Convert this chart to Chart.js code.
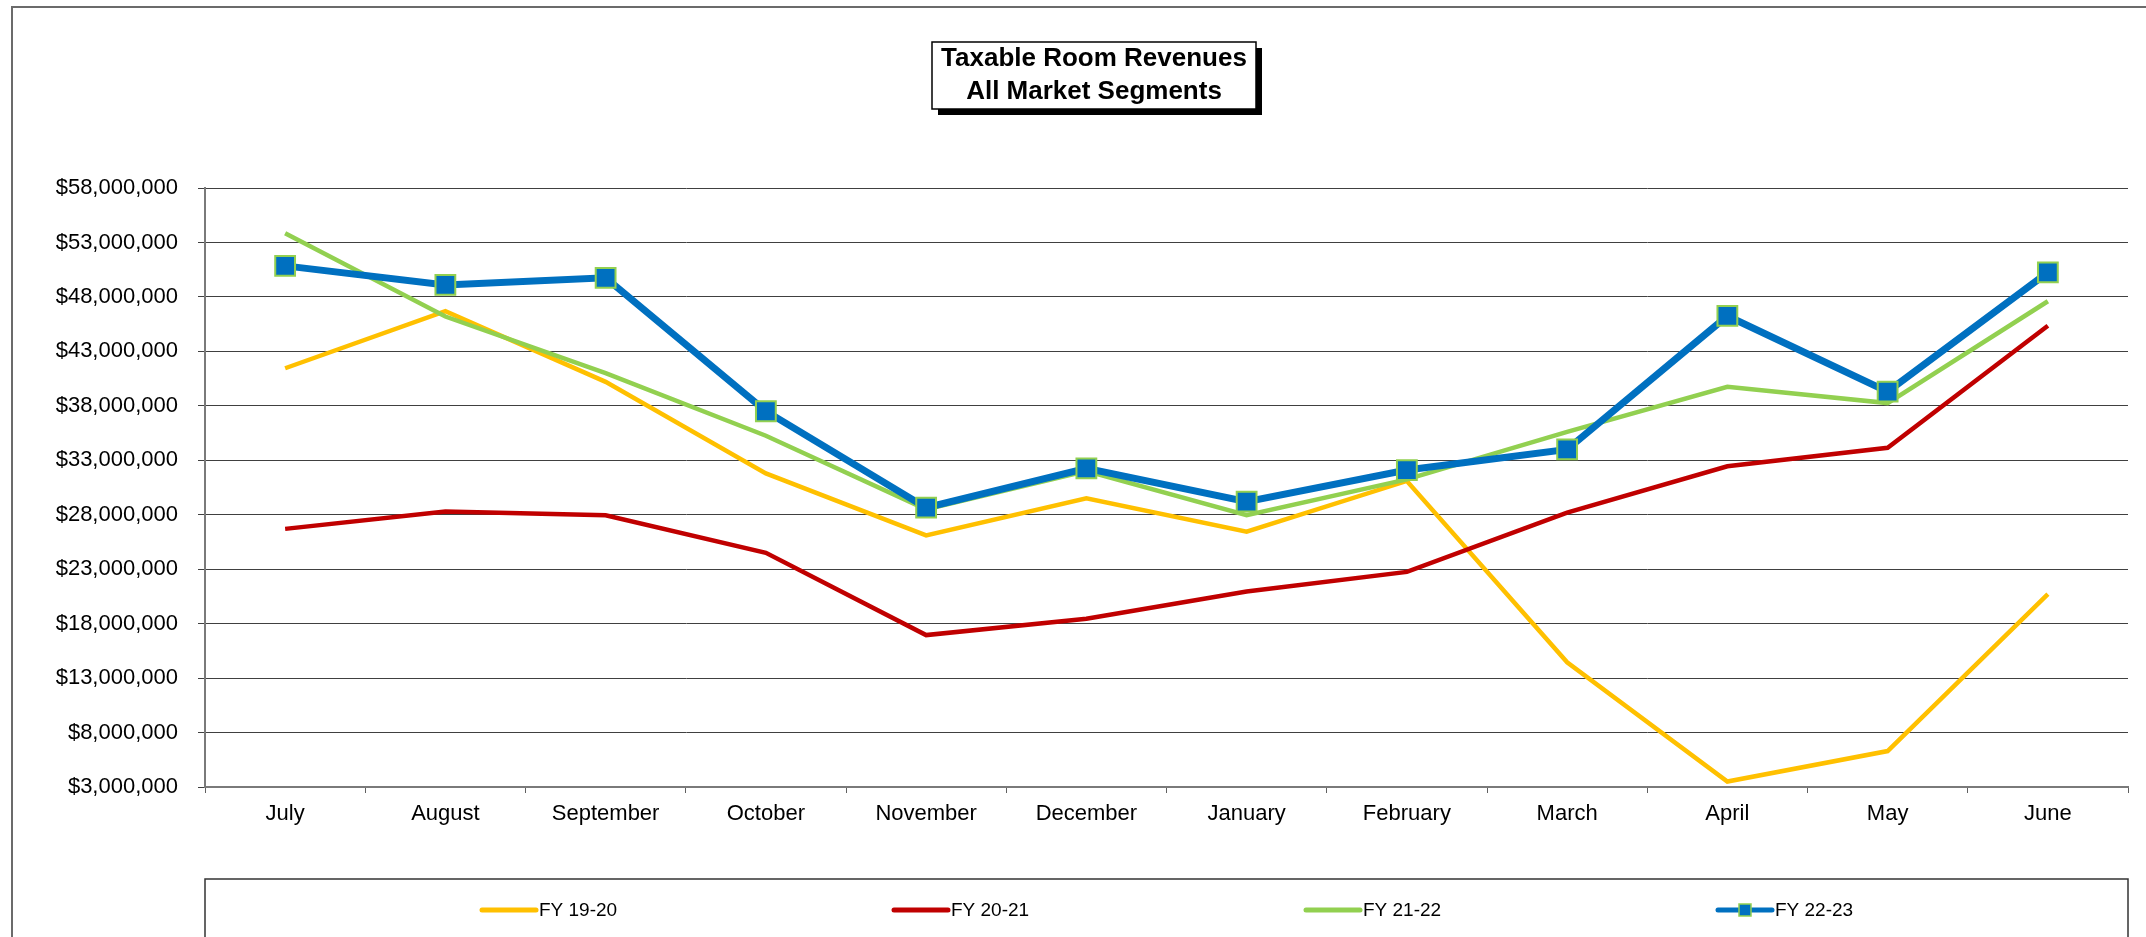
<!DOCTYPE html>
<html>
<head>
<meta charset="utf-8">
<script src="https://cdn.jsdelivr.net/npm/chart.js@4.4.0/dist/chart.umd.min.js"></script>
<style>
html, body { margin: 0; padding: 0; background: #fff; }
</style>
</head>
<body>
<canvas id="grafico" width="2146" height="937"></canvas>
<script>
const months = ['July', 'August', 'September', 'October', 'November', 'December', 'January', 'February', 'March', 'April', 'May', 'June'];

const fy1920 = [41450000, 46700000, 40200000, 31800000, 26100000, 29500000, 26450000, 31100000, 14450000, 3500000, 6300000, 20700000];
const fy2021 = [26700000, 28300000, 27950000, 24500000, 16950000, 18450000, 20950000, 22750000, 28200000, 32450000, 34150000, 45350000];
const fy2122 = [53850000, 46200000, 41000000, 35250000, 28500000, 32000000, 27950000, 31250000, 35600000, 39750000, 38250000, 47600000];
const fy2223 = [50850000, 49100000, 49750000, 37500000, 28650000, 32250000, 29200000, 32100000, 34000000, 46250000, 39300000, 50250000];

const seriesLabels = ['FY 19-20', 'FY 20-21', 'FY 21-22', 'FY 22-23'];
const yTicks = [3000000, 8000000, 13000000, 18000000, 23000000, 28000000, 33000000, 38000000, 43000000, 48000000, 53000000, 58000000];
const titleLines = ['Taxable Room Revenues', 'All Market Segments'];

const FONT = '"Liberation Sans", Arial, sans-serif';

// marco exterior, titulo y leyenda
const decor = {
    id: 'decor',
    beforeDraw(chart) {
        const ctx = chart.ctx;
        ctx.save();
        ctx.fillStyle = '#fff';
        ctx.fillRect(0, 0, chart.width, chart.height);
        ctx.strokeStyle = '#6b6b6b';
        ctx.lineWidth = 2;
        ctx.strokeRect(12, 7, 2200, 1000);

        // caja del titulo con sombra
        const bx = 932, by = 42, bw = 324, bh = 67;
        ctx.fillStyle = '#000';
        ctx.fillRect(bx + 6, by + 6, bw, bh);
        ctx.fillStyle = '#fff';
        ctx.fillRect(bx, by, bw, bh);
        ctx.strokeStyle = '#000';
        ctx.lineWidth = 1.5;
        ctx.strokeRect(bx, by, bw, bh);
        ctx.fillStyle = '#000';
        ctx.font = 'bold 26px ' + FONT;
        ctx.textAlign = 'center';
        ctx.textBaseline = 'middle';
        ctx.fillText(titleLines[0], bx + bw / 2, 59);
        ctx.fillText(titleLines[1], bx + bw / 2, 92);
        ctx.restore();
    },
    afterDraw(chart) {
        const ctx = chart.ctx;
        const area = chart.chartArea;
        ctx.save();
        ctx.strokeStyle = '#333';
        ctx.lineWidth = 1.5;
        ctx.strokeRect(area.left, 879, area.right - area.left, 200);

        const y = 910;
        ctx.font = '19px ' + FONT;
        ctx.textBaseline = 'middle';
        ctx.textAlign = 'left';
        chart.data.datasets.forEach((ds, i) => {
            const x0 = 482 + i * 412;
            ctx.strokeStyle = ds.borderColor;
            ctx.lineWidth = 5;
            ctx.lineCap = 'round';
            ctx.beginPath();
            ctx.moveTo(x0, y);
            ctx.lineTo(x0 + 54, y);
            ctx.stroke();
            if (ds.pointRadius > 0) {
                ctx.fillStyle = ds.pointBackgroundColor;
                ctx.fillRect(x0 + 21, y - 6, 12, 12);
                ctx.strokeStyle = ds.pointBorderColor;
                ctx.lineWidth = 1.5;
                ctx.strokeRect(x0 + 21, y - 6, 12, 12);
            }
            ctx.fillStyle = '#000';
            ctx.fillText(ds.label, x0 + 57, y + 1);
        });
        ctx.restore();
    }
};

const ctx = document.getElementById('grafico').getContext('2d');

new Chart(ctx, {
    type: 'line',
    data: {
        labels: months,
        datasets: [
            {
                label: seriesLabels[0],
                data: fy1920,
                borderColor: '#FFC000',
                borderWidth: 4.5,
                pointRadius: 0,
                order: 3
            },
            {
                label: seriesLabels[1],
                data: fy2021,
                borderColor: '#C00000',
                borderWidth: 4.5,
                pointRadius: 0,
                order: 2
            },
            {
                label: seriesLabels[2],
                data: fy2122,
                borderColor: '#92D050',
                borderWidth: 4.5,
                pointRadius: 0,
                order: 1
            },
            {
                label: seriesLabels[3],
                data: fy2223,
                borderColor: '#0070C0',
                borderWidth: 7,
                pointStyle: 'rect',
                pointRadius: 14,
                pointBackgroundColor: '#0070C0',
                pointBorderColor: '#92D050',
                pointBorderWidth: 2,
                order: 0
            }
        ]
    },
    options: {
        responsive: false,
        animation: false,
        devicePixelRatio: 1,
        layout: {
            padding: { left: 0, right: 18, top: 188, bottom: 0 }
        },
        scales: {
            x: {
                offset: true,
                afterFit: function(scale) { scale.height = 150; },
                grid: {
                    offset: true,
                    drawOnChartArea: false,
                    drawTicks: true,
                    tickLength: 6,
                    color: '#606060'
                },
                border: { display: true, color: '#7a7a7a', width: 2 },
                ticks: {
                    color: '#000',
                    font: { family: FONT, size: 22 },
                    padding: 8,
                    maxRotation: 0,
                    autoSkip: false
                }
            },
            y: {
                min: 3000000,
                max: 58000000,
                afterFit: function(scale) { scale.width = 205; },
                afterBuildTicks: function(scale) {
                    scale.ticks = yTicks.map(v => ({ value: v }));
                },
                grid: {
                    color: '#404040',
                    lineWidth: 1,
                    tickLength: 7
                },
                border: { display: true, color: '#7a7a7a', width: 2 },
                ticks: {
                    color: '#000',
                    font: { family: FONT, size: 22 },
                    padding: 20,
                    callback: function(value) {
                        return '$' + Number(value).toLocaleString('en-US');
                    }
                }
            }
        },
        plugins: {
            legend: { display: false },
            title: { display: false },
            tooltip: { enabled: false }
        }
    },
    plugins: [decor]
});
</script>
</body>
</html>
